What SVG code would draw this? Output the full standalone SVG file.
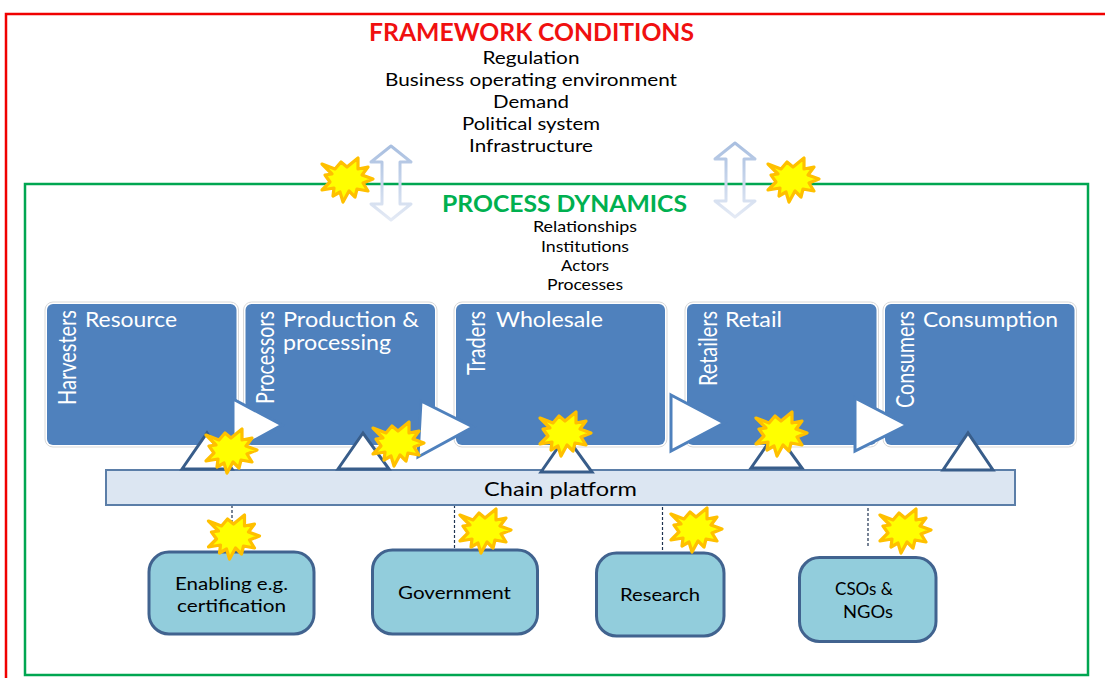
<svg xmlns="http://www.w3.org/2000/svg" xmlns:xlink="http://www.w3.org/1999/xlink" width="1105" height="678" viewBox="0 0 1105 678">
<style>
text{font-family:Lato,"Open Sans","Noto Sans",sans-serif;fill:#000}
.m{text-anchor:middle}
.fc{font-size:18px}
.pd{font-size:15px}
.w{fill:#fff;font-size:20.500px}
.r{fill:#fff;font-size:25px}
.n{font-size:17.500px}
.stage{fill:#4F81BD}
.halo{fill:#fff;stroke:#d9d9d9;stroke-width:1}
.tri{fill:#fff;stroke:#4F81BD;stroke-width:3}
.up{fill:#fff;stroke:#385D8A;stroke-width:3;stroke-linejoin:miter}
.sup{fill:#92CDDC;stroke:#41638F;stroke-width:3}
.dash{stroke:#1f3350;stroke-width:1.2;stroke-dasharray:3 2;fill:none}
.arrow{fill:none;stroke:url(#fade);stroke-width:3;stroke-linejoin:round}
.star{fill:#FFFF00;stroke:#FFC000;stroke-width:3.200;stroke-linejoin:round}
</style>
<defs>
<linearGradient id="fade" x1="0" y1="0" x2="0" y2="1">
<stop offset="0" stop-color="#A9BFE0"/><stop offset="1" stop-color="#E4EAF5"/>
</linearGradient>
<polygon id="s" class="star" points="-25,-16 -12,-11 -6,-18 0,-13 11,-22 11,-11 21,-13 15,-5 26,-1 16,3 21,11 10,9 8,17 2,11 -4,22 -7,12 -14,16 -13,8 -25,10 -17,2 -22,-5 -15,-6"/>
<path id="dbl" class="arrow" d="M21,1 L41,17 L30,17 L30,59 L41,59 L21,75 L1,59 L12,59 L12,17 L1,17 Z"/>
</defs>

<g id="frame-framework"><path d="M6,678 L6,14 L1105,14" fill="none" stroke="#F00000" stroke-width="2.5"/></g>
<g id="frame-process"><rect x="25" y="184" width="1063" height="491" fill="none" stroke="#00A651" stroke-width="2.5"/></g>

<g id="framework-text">
<text x="531.500" y="41" class="m" style="font-size:24px;font-weight:700;fill:#F01010" textLength="325" lengthAdjust="spacingAndGlyphs">FRAMEWORK CONDITIONS</text>
<text x="531" y="64" class="m fc" textLength="97" lengthAdjust="spacingAndGlyphs">Regulation</text>
<text x="531" y="86" class="m fc" textLength="292" lengthAdjust="spacingAndGlyphs">Business operating environment</text>
<text x="531" y="108" class="m fc" textLength="76" lengthAdjust="spacingAndGlyphs">Demand</text>
<text x="531" y="130" class="m fc" textLength="138" lengthAdjust="spacingAndGlyphs">Political system</text>
<text x="531" y="152" class="m fc" textLength="124" lengthAdjust="spacingAndGlyphs">Infrastructure</text>
</g>
<g id="process-text">
<text x="564.500" y="212" class="m" style="font-size:23px;font-weight:700;fill:#00B050" textLength="245" lengthAdjust="spacingAndGlyphs">PROCESS DYNAMICS</text>
<text x="585" y="232" class="m pd" textLength="104" lengthAdjust="spacingAndGlyphs">Relationships</text>
<text x="585" y="251.500" class="m pd" textLength="88" lengthAdjust="spacingAndGlyphs">Institutions</text>
<text x="585" y="270.500" class="m pd" textLength="48" lengthAdjust="spacingAndGlyphs">Actors</text>
<text x="585" y="289.500" class="m pd" textLength="76" lengthAdjust="spacingAndGlyphs">Processes</text>
</g>

<g id="stage-resource">
<rect class="halo" x="45" y="302" width="193.500" height="145" rx="8"/><rect class="stage" x="47" y="304" width="189.500" height="141" rx="6"/>
<text class="w" x="85" y="327" textLength="92" lengthAdjust="spacingAndGlyphs">Resource</text>
<text class="r" transform="translate(76 405) rotate(-90)" textLength="95" lengthAdjust="spacingAndGlyphs">Harvesters</text>
</g>
<g id="stage-production">
<rect class="halo" x="243.500" y="302" width="193.500" height="145" rx="8"/><rect class="stage" x="245.500" y="304" width="189.500" height="141" rx="6"/>
<text class="w" x="283" y="327" textLength="136" lengthAdjust="spacingAndGlyphs">Production &amp;</text>
<text class="w" x="283" y="350" textLength="108" lengthAdjust="spacingAndGlyphs">processing</text>
<text class="r" transform="translate(274 404) rotate(-90)" textLength="93" lengthAdjust="spacingAndGlyphs">Processors</text>
</g>
<g id="stage-wholesale">
<rect class="halo" x="454" y="302" width="213" height="145" rx="8"/><rect class="stage" x="456" y="304" width="209" height="141" rx="6"/>
<text class="w" x="496" y="327" textLength="107" lengthAdjust="spacingAndGlyphs">Wholesale</text>
<text class="r" transform="translate(485 375) rotate(-90)" textLength="64" lengthAdjust="spacingAndGlyphs">Traders</text>
</g>
<g id="stage-retail">
<rect class="halo" x="685" y="302" width="193.500" height="145" rx="8"/><rect class="stage" x="687" y="304" width="189.500" height="141" rx="6"/>
<text class="w" x="725" y="327" textLength="57" lengthAdjust="spacingAndGlyphs">Retail</text>
<text class="r" transform="translate(717 386) rotate(-90)" textLength="75" lengthAdjust="spacingAndGlyphs">Retailers</text>
</g>
<g id="stage-consumption">
<rect class="halo" x="883" y="302" width="193.500" height="145" rx="8"/><rect class="stage" x="885" y="304" width="189.500" height="141" rx="6"/>
<text class="w" x="923" y="327" textLength="135" lengthAdjust="spacingAndGlyphs">Consumption</text>
<text class="r" transform="translate(914 408) rotate(-90)" textLength="97" lengthAdjust="spacingAndGlyphs">Consumers</text>
</g>

<g id="connectors">
<use xlink:href="#dbl" href="#dbl" x="370" y="145"/>
<use xlink:href="#dbl" href="#dbl" x="714" y="142"/>
<line class="dash" x1="232" y1="505" x2="232" y2="552"/>
<line class="dash" x1="454.500" y1="505" x2="454.500" y2="549"/>
<line class="dash" x1="662.500" y1="507" x2="662.500" y2="553"/>
<line class="dash" x1="868" y1="503" x2="868" y2="547"/>
<polygon class="tri" points="233,399 282,425 233,452"/>
<polygon class="tri" points="421,401 473,427 418,457"/>
<polygon class="tri" points="671,395 724,423 671,451"/>
<polygon class="tri" points="855,398 907,425 855,451"/>
</g>

<g id="chain-platform">
<rect x="106" y="470" width="909" height="35" fill="#DCE6F2" stroke="#5B7EA8" stroke-width="2"/>
<text x="560.500" y="495.500" class="m" style="font-size:20px" textLength="153" lengthAdjust="spacingAndGlyphs">Chain platform</text>
</g>
<g id="platform-links">
<polygon class="up" points="182,469 207,433 232,469"/>
<polygon class="up" points="338,469 363,433 389,469"/>
<polygon class="up" points="541,472 566,436 592,472"/>
<polygon class="up" points="751,468 776,432 802,468"/>
<polygon class="up" points="943,470 968,433 993,470"/>
</g>

<g id="node-enabling">
<rect class="sup" x="149" y="552" width="165" height="82" rx="20"/>
<text x="231.500" y="589.500" class="m n" textLength="113" lengthAdjust="spacingAndGlyphs">Enabling e.g.</text>
<text x="231.500" y="611.500" class="m n" textLength="109" lengthAdjust="spacingAndGlyphs">certification</text>
</g>
<g id="node-government">
<rect class="sup" x="372.500" y="550" width="165" height="84" rx="20"/>
<text x="454.500" y="598.500" class="m n" textLength="113" lengthAdjust="spacingAndGlyphs">Government</text>
</g>
<g id="node-research">
<rect class="sup" x="596.500" y="553" width="127.500" height="83" rx="20"/>
<text x="660" y="600.500" class="m n" textLength="80" lengthAdjust="spacingAndGlyphs">Research</text>
</g>
<g id="node-csos">
<rect class="sup" x="799.500" y="557.500" width="136.500" height="84" rx="20"/>
<text x="864" y="594.500" class="m n" textLength="58" lengthAdjust="spacingAndGlyphs">CSOs &amp;</text>
<text x="868" y="617.500" class="m n" textLength="50" lengthAdjust="spacingAndGlyphs">NGOs</text>
</g>

<g id="stars">
<use xlink:href="#s" href="#s" x="347" y="180"/>
<use xlink:href="#s" href="#s" x="793" y="180"/>
<use xlink:href="#s" href="#s" x="231" y="451"/>
<use xlink:href="#s" href="#s" x="398" y="444"/>
<use xlink:href="#s" href="#s" x="565" y="434"/>
<use xlink:href="#s" href="#s" x="781" y="434"/>
<use xlink:href="#s" href="#s" x="233.500" y="537"/>
<use xlink:href="#s" href="#s" x="485" y="531"/>
<use xlink:href="#s" href="#s" x="696" y="530"/>
<use xlink:href="#s" href="#s" x="905" y="531"/>
</g>
</svg>
